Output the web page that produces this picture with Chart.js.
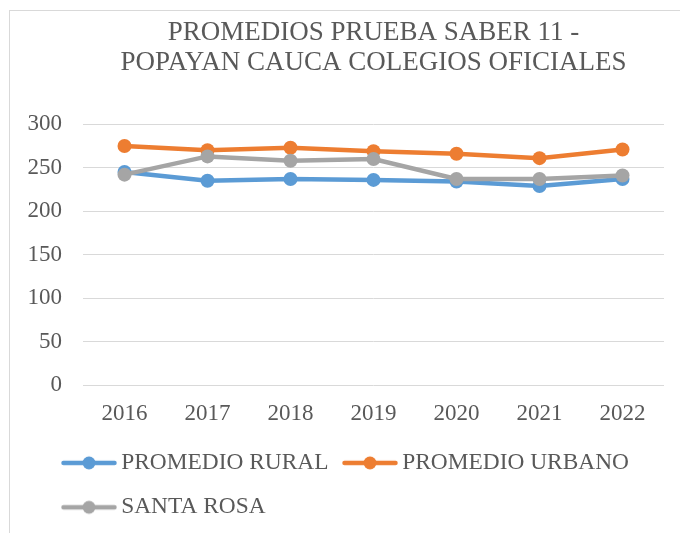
<!DOCTYPE html>
<html>
<head>
<meta charset="utf-8">
<script src="https://cdn.jsdelivr.net/npm/chart.js@4.4.0/dist/chart.umd.min.js"></script>
<style>
  html, body { margin: 0; padding: 0; background: #fff; overflow: hidden; }
  #wrap { position: absolute; left: 0; top: 0; width: 680px; height: 533px; }
  #frame { position: absolute; left: 9px; top: 10px; width: 800px; height: 800px; border: 1px solid #d9d9d9; pointer-events: none; }
</style>
</head>
<body>
<div id="wrap"><canvas id="c" width="680" height="533"></canvas></div>
<div id="frame"></div>
<script>
const titleLines = ["PROMEDIOS PRUEBA SABER 11 -", "POPAYAN CAUCA COLEGIOS OFICIALES"];
const years = ["2016", "2017", "2018", "2019", "2020", "2021", "2022"];
const seriesNames = ["PROMEDIO RURAL", "PROMEDIO URBANO", "SANTA ROSA"];
const rural = [245, 235, 237, 236, 234, 229, 237];
const urban = [275, 270, 273, 269, 266, 261, 271];
const santaRosa = [242, 263, 258, 260, 237, 237, 241];
const yTicks = [0, 50, 100, 150, 200, 250, 300];

const colors = ["#5B9BD5", "#ED7D31", "#A5A5A5"];
const FONT = "'Liberation Serif', 'Times New Roman', serif";
const TEXT = "#595959";

function legendIcon(color) {
  const cv = document.createElement('canvas');
  cv.width = 56; cv.height = 16;
  const g = cv.getContext('2d');
  g.strokeStyle = color; g.lineWidth = 4.5; g.lineCap = 'round';
  g.beginPath(); g.moveTo(2.5, 8); g.lineTo(53.5, 8); g.stroke();
  g.fillStyle = color;
  g.beginPath(); g.arc(28, 8, 6.5, 0, Math.PI * 2); g.fill();
  return cv;
}
const icons = colors.map(legendIcon);

function ds(label, data, color, order) {
  return {
    label, data, order,
    borderColor: color, backgroundColor: color,
    borderWidth: 4.5, pointRadius: 7, pointHoverRadius: 7,
    pointBackgroundColor: color, pointBorderColor: color, pointBorderWidth: 0,
    tension: 0, fill: false
  };
}

const shiftLegend = {
  id: 'shiftLegend',
  afterLayout(chart) {
    if (chart.legend) { chart.legend.left += 37.5; chart.legend.right += 37.5; }
  }
};

new Chart(document.getElementById('c'), {
  type: 'line',
  data: {
    labels: years,
    datasets: [
      ds(seriesNames[0], rural, colors[0], 2),
      ds(seriesNames[1], urban, colors[1], 1),
      ds(seriesNames[2], santaRosa, colors[2], 0)
    ]
  },
  plugins: [shiftLegend],
  options: {
    responsive: false,
    animation: false,
    layout: { padding: { left: 10, right: 16, top: 0, bottom: 4 } },
    plugins: {
      tooltip: { enabled: false },
      title: {
        display: true,
        fullSize: false,
        text: titleLines,
        color: TEXT,
        font: { family: FONT, size: 27, weight: 'normal', lineHeight: 1.1 },
        padding: { top: 18.2, bottom: 46.6 }
      },
      legend: {
        display: true,
        position: 'bottom',
        align: 'start',
        maxWidth: 640,
        labels: {
          color: TEXT,
          font: { family: FONT, size: 23.4 },
          usePointStyle: true,
          pointStyleWidth: 41,
          padding: 21,
          sort: (a, b) => a.datasetIndex - b.datasetIndex,
          generateLabels: (chart) => {
            const items = Chart.defaults.plugins.legend.labels.generateLabels(chart);
            items.forEach(it => { it.pointStyle = icons[it.datasetIndex]; it.lineWidth = 0; });
            return items;
          }
        }
      }
    },
    scales: {
      x: {
        offset: true,
        grid: { display: false },
        border: { display: false },
        afterFit: (s) => { s.height = 45; },
        ticks: { color: TEXT, font: { family: FONT, size: 23 }, padding: 7, maxRotation: 0, autoSkip: false }
      },
      y: {
        min: 0, max: 300,
        afterFit: (s) => { s.width = 73; },
        afterBuildTicks: (s) => { s.ticks = yTicks.map(v => ({ value: v })); },
        grid: { color: "#d9d9d9", lineWidth: 1, drawTicks: false },
        border: { display: false },
        ticks: { color: TEXT, font: { family: FONT, size: 23 }, padding: 21 }
      }
    }
  }
});
</script>
</body>
</html>
